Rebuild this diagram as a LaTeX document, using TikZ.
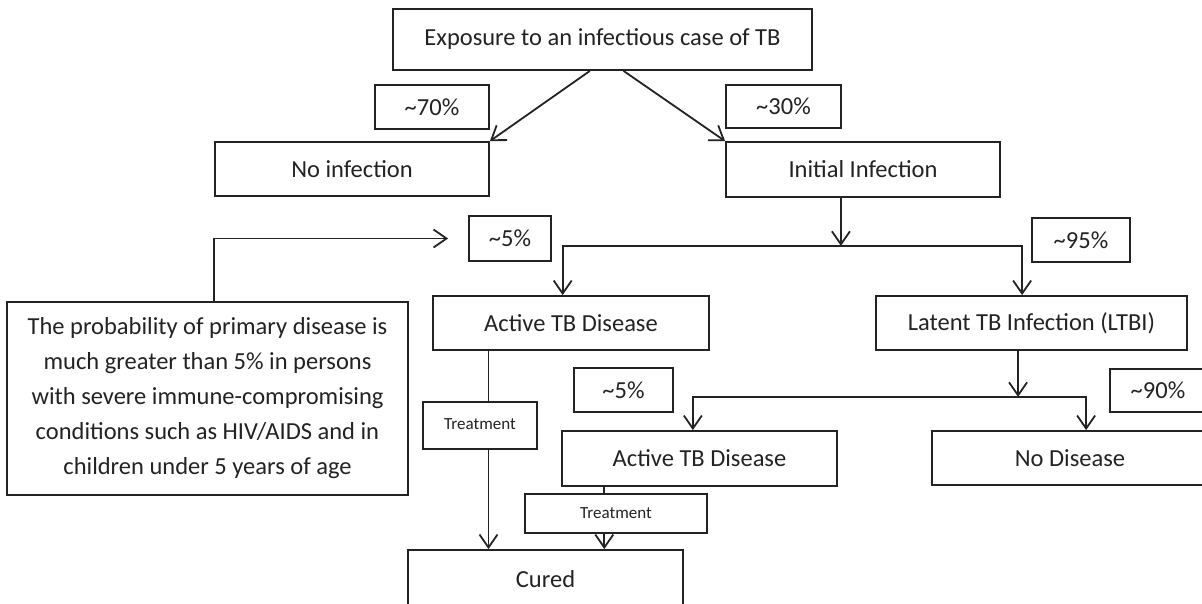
\documentclass[tikz,border=0pt]{standalone}
\usepackage{fontspec}
\setmainfont{Carlito}
\usetikzlibrary{arrows.meta,calc,backgrounds}
\definecolor{ink}{RGB}{35,35,35}
\begin{document}
\begin{tikzpicture}[x=1pt,y=-1pt,
  box/.style={draw=ink, line width=1.8pt, fill=white, inner sep=0pt, text=ink,
    font=\fontsize{24.5}{35}\selectfont},
  smallbox/.style={box, font=\fontsize{17}{20}\selectfont},
  ln/.style={draw=ink, line width=1.8pt},
  arr/.style={ln, -{Straight Barb[length=13pt,width=18pt,line width=1.8pt]}}]
\useasboundingbox (0,0) rectangle (1202,603);
\clip (0,0) rectangle (1202,603);

\node[box, minimum width=419pt, minimum height=61pt] (top) at (602.5,39.5) {Exposure to an infectious case of TB};
\node[box, minimum width=114pt, minimum height=44pt] (p70) at (432,107) {\textasciitilde 70\%};
\node[box, minimum width=115pt, minimum height=43pt] (p30) at (783.5,106.5) {\textasciitilde 30\%};
\node[box, minimum width=274pt, minimum height=54pt] (noinf) at (352,169) {No infection};
\node[box, minimum width=274pt, minimum height=55pt] (initinf) at (863,169.5) {Initial Infection};
\node[box, minimum width=82pt, minimum height=45pt] (p5a) at (510,238.5) {\textasciitilde 5\%};
\node[box, minimum width=98pt, minimum height=44pt] (p95) at (1081,240) {\textasciitilde 95\%};
\node[box, minimum width=276pt, minimum height=54pt] (act1) at (571,323) {Active TB Disease};
\node[box, minimum width=311pt, minimum height=54pt] (ltbi) at (1031.5,323) {Latent TB Infection (LTBI)};
\node[box, minimum width=401pt, minimum height=193pt, align=center] (note) at (207.5,398.5)
  {The probability of primary disease is\\much greater than 5\% in persons\\with severe immune-compromising\\conditions such as HIV/AIDS and in\\children under 5 years of age};
\node[box, minimum width=99pt, minimum height=44pt] (p5b) at (623.5,390) {\textasciitilde 5\%};
\node[box, minimum width=96pt, minimum height=43pt] (p90) at (1158,390.5) {\textasciitilde 90\%};
\node[smallbox, minimum width=114pt, minimum height=47pt] (treat1) at (480,425.5) {\raisebox{3pt}{Treatment}};
\node[box, minimum width=275pt, minimum height=55pt] (act2) at (699.5,458.5) {Active TB Disease};
\node[box, minimum width=276pt, minimum height=54pt] (nodis) at (1070,458) {No Disease};
\node[smallbox, minimum width=182pt, minimum height=39pt] (treat2) at (616,513.5) {Treatment};
\node[box, minimum width=275pt, minimum height=62pt] (cured) at (545.5,581) {\raisebox{4pt}{Cured}};

\begin{scope}[on background layer]
\draw[arr] ($(top.south west)!0.47!(top.south east)$) -- (noinf.north east);
\draw[arr] ($(top.south west)!0.55!(top.south east)$) -- (initinf.north west);
\coordinate (i1) at ($(initinf.south west)!0.42!(initinf.south east)$);
\coordinate (j1) at ($(i1)+(0,48)$);
\draw[arr] (i1) -- (j1);
\draw[arr] (j1) -| ($(act1.north west)!0.47!(act1.north east)$);
\draw[arr] (j1) -| ($(ltbi.north west)!0.47!(ltbi.north east)$);
\coordinate (l1) at ($(ltbi.south west)!0.457!(ltbi.south east)$);
\coordinate (j2) at ($(l1)+(0,46)$);
\draw[arr] (l1) -- (j2);
\draw[arr] (j2) -| ($(act2.north west)!0.476!(act2.north east)$);
\draw[arr] (j2) -| ($(nodis.north west)!0.558!(nodis.north east)$);
\coordinate (n5) at ([xshift=-20pt]p5a.west);
\draw[arr] ($(note.north west)!0.516!(note.north east)$) |- (n5);
\coordinate (a1b) at ($(act1.south west)!0.203!(act1.south east)$);
\draw[arr] (a1b) -- (a1b |- cured.north);
\coordinate (a2b) at ($(act2.south west)!0.156!(act2.south east)$);
\draw[ln] (a2b) -- (a2b |- treat2.north);
\draw[arr] (a2b |- treat2.south) -- (a2b |- cured.north);
\end{scope}
\end{tikzpicture}
\end{document}
